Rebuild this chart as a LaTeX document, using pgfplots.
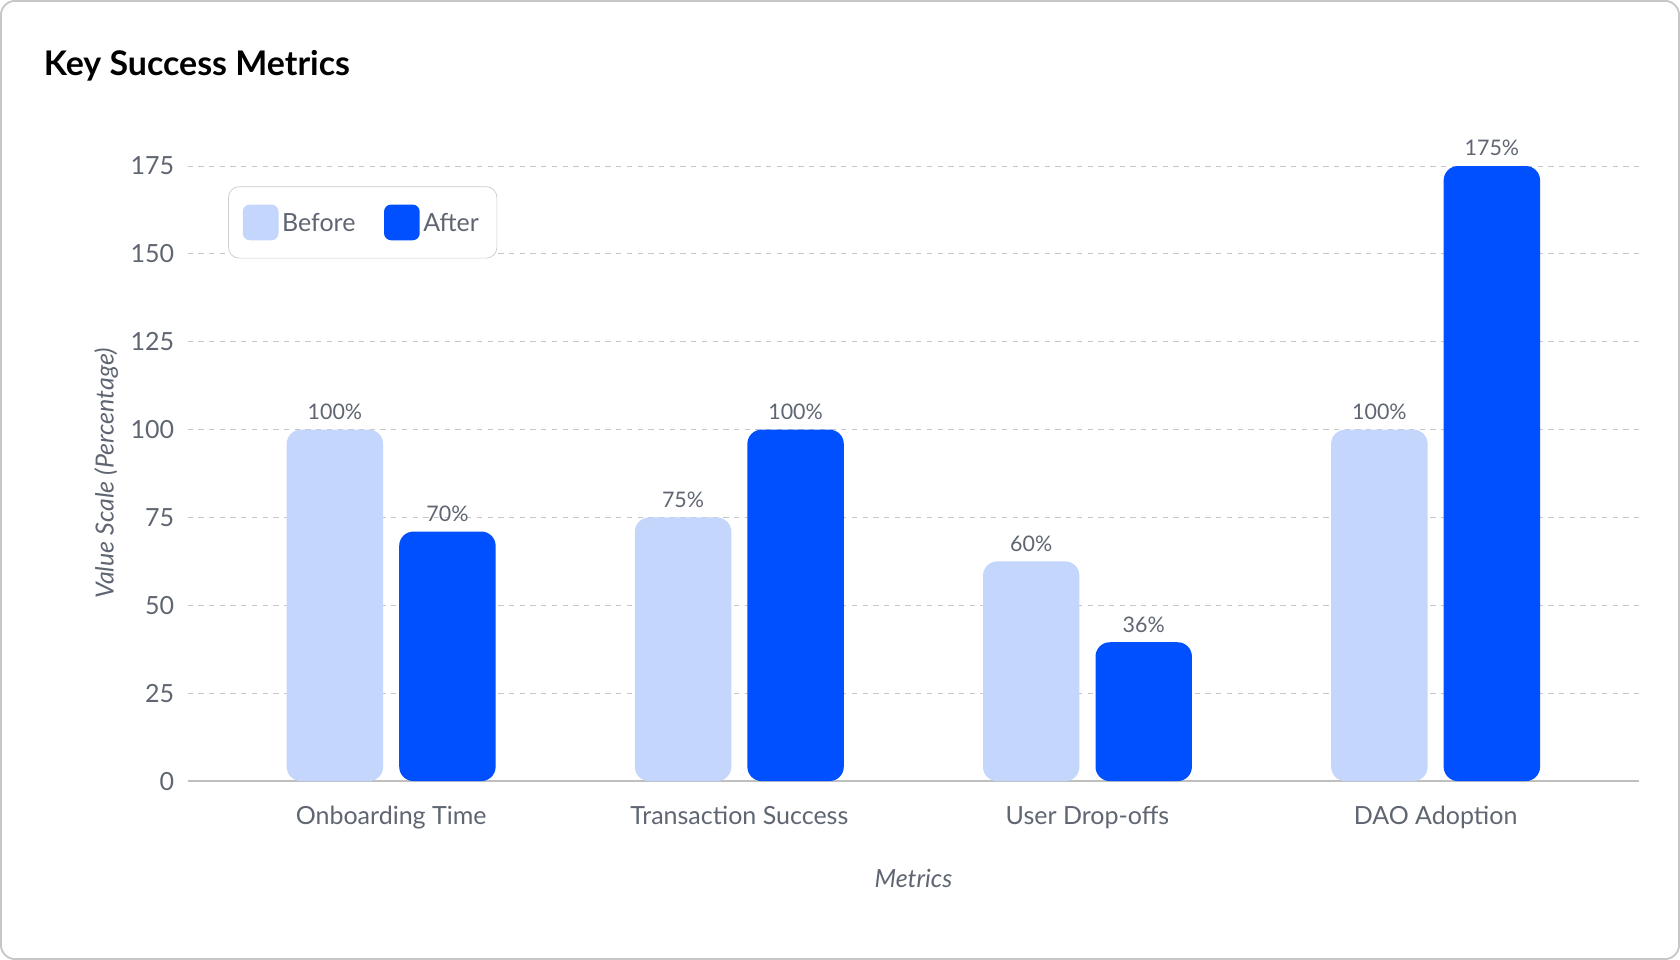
\documentclass[border=0pt]{standalone}
\usepackage{pgfplots}
\pgfplotsset{compat=1.18}
\usepackage{pgfplotstable}
\usepackage{fontspec}
\setmainfont{Lato}
\definecolor{before}{HTML}{C4D6FC}
\definecolor{after}{HTML}{0050FF}
\definecolor{txt}{HTML}{5F6672}
\pgfplotstableread{
x y lab
0 100 100\%
1 75 75\%
2 62.5 60\%
3 100 100\%
}\before
\pgfplotstableread{
x y lab
0 71 70\%
1 100 100\%
2 39.5 36\%
3 175 175\%
}\after
\begin{document}
\begin{tikzpicture}[x=1pt,y=1pt]
\draw[gray!45, line width=1pt, rounded corners=8pt, fill=white] (0.5,0.5) rectangle (940.3,537.1);
\node[anchor=west, font=\bfseries\fontsize{19}{22}\selectfont] at (21,501) {Key Success Metrics};
\begin{axis}[
  at={(105pt,100.2pt)}, anchor=south west,
  scale only axis, width=813pt, height=344.4pt,
  ymin=0, ymax=175, xmin=-0.585, xmax=3.585,
  clip=false,
  ybar, bar width=54pt,
  axis x line*=bottom, axis y line*=left,
  x axis line style={draw=gray!50, line width=0.8pt},
  y axis line style={draw=none},
  tick style={draw=none},
  ymajorgrids, grid style={dashed, gray!45, line width=0.6pt},
  ytick={0,25,50,75,100,125,150,175},
  xtick={0,1,2,3},
  xticklabels={Onboarding Time, Transaction Success, User Drop-offs, DAO Adoption},
  /pgf/number format/assume math mode=true,
  ticklabel style={font=\fontsize{14}{16}\selectfont, text=txt},
  xticklabel style={yshift=-6pt},
  yticklabel style={xshift=-4pt},
  ylabel={\itshape Value Scale (Percentage)},
  ylabel style={font=\fontsize{14}{16}\selectfont, text=txt},
  xlabel={\itshape Metrics},
  xlabel style={font=\fontsize{14}{16}\selectfont, text=txt, yshift=-16pt},
  nodes near coords, point meta=explicit symbolic,
  nodes near coords style={font=\fontsize{12}{14}\selectfont, text=txt, yshift=2pt},
  legend style={at={(0.028,0.967)}, anchor=north west, draw=gray!40, rounded corners=6pt,
    font=\fontsize{14}{16}\selectfont, text=txt, inner xsep=8pt, inner ysep=10pt,
    /tikz/every even column/.append style={column sep=14pt}},
  legend columns=2,
  legend image code/.code={\fill[#1, draw=none, rounded corners=4pt] (0pt,-9pt) rectangle (20pt,11pt);},
]
\addplot[fill=before, draw=none, rounded corners=8pt, bar shift=-31.5pt] table[x=x, y=y, meta=lab] {\before};
\addplot[fill=after, draw=none, rounded corners=8pt, bar shift=31.5pt] table[x=x, y=y, meta=lab] {\after};
\legend{Before, After}
\end{axis}
\end{tikzpicture}
\end{document}
